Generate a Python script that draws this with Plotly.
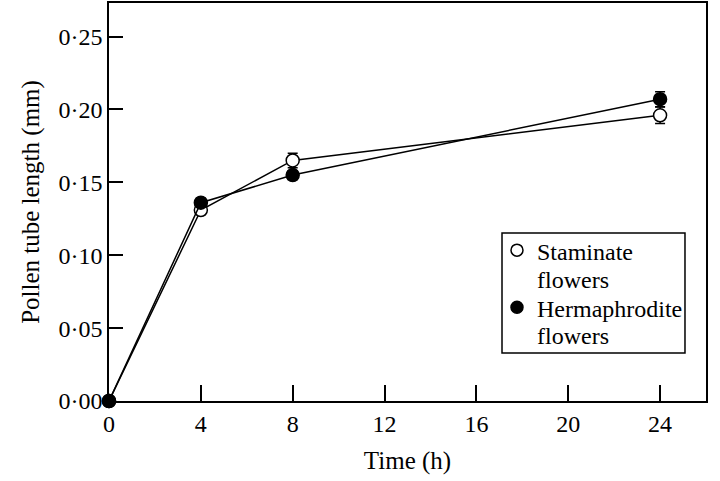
import plotly.graph_objects as go

time_h = [0, 4, 8, 24]
staminate = [0.0, 0.131, 0.165, 0.196]
staminate_err = [0.0, 0.003, 0.005, 0.0057]
herm = [0.0, 0.136, 0.155, 0.207]
herm_err = [0.0, 0.003, 0.003, 0.0052]
x_ticks = [0, 4, 8, 12, 16, 20, 24]
y_ticks = [0.0, 0.05, 0.10, 0.15, 0.20, 0.25]
y_labels = ["0·00", "0·05", "0·10", "0·15", "0·20", "0·25"]
series_names = ["Staminate", "Hermaphrodite"]
second_line = "flowers"

FONT = "Liberation Serif"
fig = go.Figure()

fig.add_trace(go.Scatter(
    x=time_h, y=staminate, mode="lines+markers", showlegend=False, cliponaxis=False,
    line=dict(color="black", width=1.5),
    marker=dict(symbol="circle", size=13, color="white", line=dict(color="black", width=1.5)),
    error_y=dict(type="data", array=staminate_err, color="black", thickness=1.5, width=5),
))
fig.add_trace(go.Scatter(
    x=time_h, y=herm, mode="lines+markers", showlegend=False, cliponaxis=False,
    line=dict(color="black", width=1.5),
    marker=dict(symbol="circle", size=13, color="black", line=dict(color="black", width=1.5)),
    error_y=dict(type="data", array=herm_err, color="black", thickness=1.5, width=5),
))
# legend entries
fig.add_trace(go.Scatter(
    x=[None], y=[None], mode="markers", name=series_names[0], legendgroup="a",
    marker=dict(symbol="circle", size=12, color="white", line=dict(color="black", width=1.5)),
))
fig.add_trace(go.Scatter(
    x=[None], y=[None], mode="markers", name=series_names[1], legendgroup="b",
    marker=dict(symbol="circle", size=12, color="black", line=dict(color="black", width=1.5)),
))

# legend box and second-line labels
fig.add_shape(type="rect", xref="paper", yref="paper",
              x0=0.6583, x1=0.9648, y0=0.1206, y1=0.4221,
              line=dict(color="black", width=1.5), fillcolor="rgba(0,0,0,0)")
for yy in [0.304, 0.1633]:
    fig.add_annotation(text=second_line, xref="paper", yref="paper", x=0.7136, y=yy,
                       xanchor="left", yanchor="middle", showarrow=False,
                       font=dict(family=FONT, size=24, color="black"))

fig.update_layout(
    width=720, height=481,
    margin=dict(l=109, r=14, t=3, b=80, autoexpand=False),
    paper_bgcolor="white", plot_bgcolor="white",
    font=dict(family=FONT, size=24, color="black"),
    legend=dict(
        x=0.6499, y=0.4346, xanchor="left", yanchor="top",
        borderwidth=0, bgcolor="rgba(0,0,0,0)",
        font=dict(family=FONT, size=24), tracegroupgap=23,
        itemwidth=30,
    ),
)
fig.update_xaxes(
    range=[0, 26], tickvals=x_ticks, ticktext=[str(v) for v in x_ticks],
    ticks="inside", ticklen=16, tickwidth=1.5, tickcolor="black",
    showline=True, linecolor="black", linewidth=1.5, mirror=True,
    showgrid=False, zeroline=False, automargin=False,
    title=dict(text="Time (h)", font=dict(family=FONT, size=25), standoff=16),
    tickfont=dict(family=FONT, size=24),
)
fig.update_yaxes(
    range=[0, 0.273], tickvals=y_ticks, ticktext=y_labels,
    ticks="inside", ticklen=14, tickwidth=1.5, tickcolor="black",
    showline=True, linecolor="black", linewidth=1.5, mirror=True,
    showgrid=False, zeroline=False, automargin=False,
    title=dict(text="Pollen tube length (mm)", font=dict(family=FONT, size=25), standoff=12),
    tickfont=dict(family=FONT, size=24),
)
fig.write_html("out.html", config={"displayModeBar": False},
               post_script="document.body.style.margin='0';")
